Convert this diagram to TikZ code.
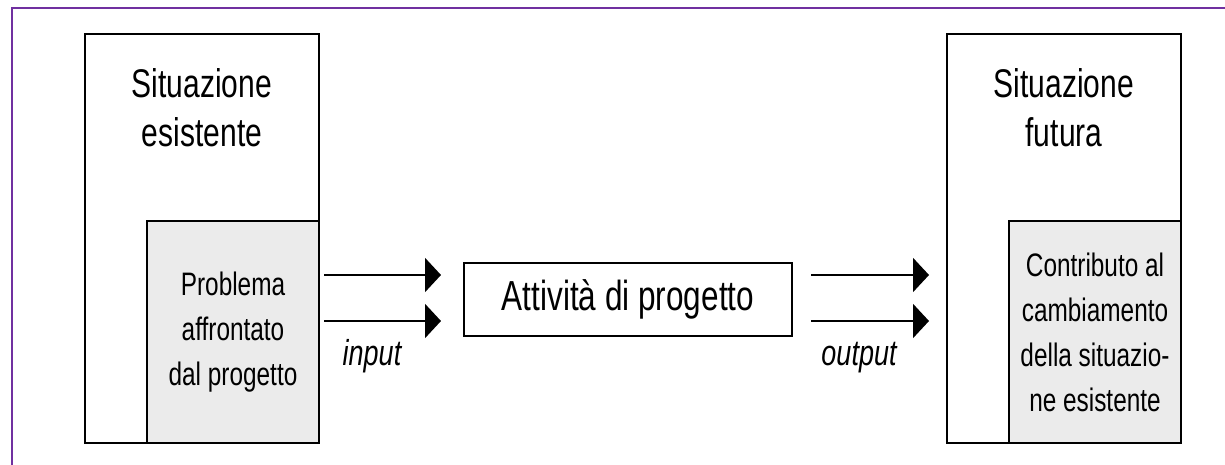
\documentclass[tikz,border=0pt]{standalone}
\usepackage{fontspec}
\setmainfont{Liberation Sans}[FakeStretch=0.75]
\usetikzlibrary{arrows.meta, positioning}
\usepackage{xcolor}
\definecolor{framepurple}{RGB}{112,48,160}
\definecolor{problemgray}{RGB}{235,235,235}

\begin{document}
\begin{tikzpicture}[
    x=1pt, y=-1pt,
    situationbox/.style={rectangle, draw, line width=2pt, minimum width=234pt, minimum height=409pt},
    problembox/.style={rectangle, draw, line width=2pt, fill=problemgray, minimum width=172pt, minimum height=222pt, inner sep=0pt, align=center, font=\fontsize{32.5}{45}\selectfont},
    activitybox/.style={rectangle, draw, line width=2pt, minimum width=328pt, minimum height=73pt, inner sep=0pt, font=\fontsize{42}{46}\selectfont},
    heading/.style={inner sep=0pt, align=center, font=\fontsize{40}{49}\selectfont},
    flowlabel/.style={inner sep=0pt, anchor=base, font=\fontsize{36}{40}\selectfont\itshape},
    arrow/.style={-{Triangle[length=16pt, width=34pt]}, line width=2pt}
]
\useasboundingbox (0,0) rectangle (1225,465);

% page frame
\draw[framepurple, line width=2.5pt] (12,465) -- (12,8) -- (1225,8);

\node[situationbox] (existing) at (202,238.5) {};
\node[problembox, anchor=south east] (problem) at (existing.south east) {Problema\\affrontato\\dal progetto};
\node[heading, below=35pt of existing.north] (existingtitle) {Situazione\\esistente};

\node[activitybox] (activity) at (628,299.5) {Attività di progetto};

\node[situationbox] (future) at (1064,238.5) {};
\node[problembox, anchor=south east] (contribution) at (future.south east) {Contributo al\\cambiamento\\della situazio-\\ne esistente};
\node[heading, below=35pt of future.north] (futuretitle) {Situazione\\futura};

\coordinate (in1) at (324,275);
\coordinate (in1end) at (441,275);
\coordinate (in2) at (324,321);
\coordinate (in2end) at (441,321);
\coordinate (out1) at (811,275);
\coordinate (out1end) at (929,275);
\coordinate (out2) at (811,321);
\coordinate (out2end) at (929,321);

\draw[arrow] (in1) -- (in1end);
\draw[arrow] (in2) -- (in2end);
\draw[arrow] (out1) -- (out1end);
\draw[arrow] (out2) -- (out2end);

\node[flowlabel] (inputlabel) at (372,365) {input};
\node[flowlabel] (outputlabel) at (859,365) {output};

\end{tikzpicture}
\end{document}
